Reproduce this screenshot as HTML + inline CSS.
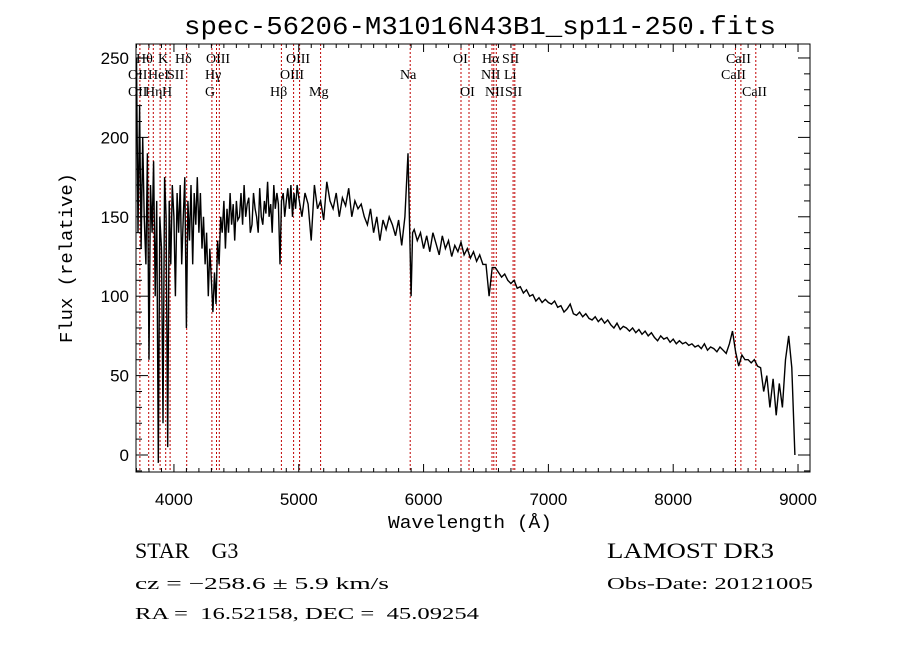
<!DOCTYPE html>
<html><head><meta charset="utf-8"><style>
html,body{margin:0;padding:0;background:#fff;}
svg{display:block;}
text{fill:#000;}
</style></head><body>
<svg id="chart" width="900" height="649" viewBox="0 0 900 649" xmlns="http://www.w3.org/2000/svg">
<rect x="0" y="0" width="900" height="649" fill="#fff"/>
<text x="480" y="34" text-anchor="middle" font-family="Liberation Mono, monospace" font-size="26" textLength="592" lengthAdjust="spacingAndGlyphs">spec-56206-M31016N43B1_sp11-250.fits</text>
<g id="lines"></g>
<g id="labels" font-family="Liberation Serif, serif" font-size="14"></g>
<g id="axes"></g>
<path id="spec" fill="none" stroke="#000" stroke-width="1.4" stroke-linejoin="miter"/>
<rect x="136" y="44" width="674" height="428" fill="none" stroke="#000" stroke-width="1"/>
<text x="470" y="528" text-anchor="middle" font-family="Liberation Mono, monospace" font-size="18" textLength="164" lengthAdjust="spacingAndGlyphs">Wavelength (Å)</text>
<text transform="translate(72,258) rotate(-90)" text-anchor="middle" font-family="Liberation Mono, monospace" font-size="18" textLength="170" lengthAdjust="spacingAndGlyphs">Flux (relative)</text>
<text x="135" y="558" font-family="Liberation Serif, serif" font-size="22" xml:space="preserve">STAR    G3</text>
<text x="135" y="589" font-family="Liberation Serif, serif" font-size="17" textLength="254" lengthAdjust="spacingAndGlyphs">cz = −258.6 ± 5.9 km/s</text>
<text x="135" y="619" font-family="Liberation Serif, serif" font-size="17" textLength="344" lengthAdjust="spacingAndGlyphs" xml:space="preserve">RA =  16.52158, DEC =  45.09254</text>
<text x="607" y="558" font-family="Liberation Serif, serif" font-size="22" textLength="167" lengthAdjust="spacingAndGlyphs">LAMOST DR3</text>
<text x="607" y="589" font-family="Liberation Serif, serif" font-size="17" textLength="206" lengthAdjust="spacingAndGlyphs">Obs-Date: 20121005</text>
</svg>
<script>
const waves = [3700,3712,3725,3737,3750,3762,3775,3787,3800,3812,3825,3837,3850,3862,3875,3887,3900,3912,3925,3937,3950,3962,3975,3987,4000,
4012,4025,4037,4050,4062,4075,4087,4100,4112,4125,4137,4150,4162,4175,4187,4200,4212,4225,4237,4250,4262,4275,4287,4300,4312,4325,4337,4350,4362,4375,4387,4400,4412,4425,
4437,4450,4462,4475,4487,4500,4512,4525,4537,4550,4562,4575,4587,4600,4612,4625,4637,4650,4662,4675,4687,4700,4712,4725,4737,4750,4762,4775,4787,4800,4812,4825,4837,4850,4862,4875,4887,4900,4912,4925,4937,4950,4962,4975,4987,5000,
5025,5050,5075,5100,5125,5150,5175,5200,5225,5250,5275,5300,5325,5350,5375,5400,5425,5450,5475,5500,
5525,5550,5575,5600,5625,5650,5675,5700,5725,5750,5775,5800,5825,5850,5875,
5900,5912,5925,
5950,5975,6000,6025,6050,6075,6100,6125,6150,6175,6200,6225,6250,6275,6300,6325,6350,6375,6400,6425,6450,6475,6500,
6525,6550,6575,
6600,6625,6650,6675,6700,6725,6750,6775,6800,6825,6850,6875,6900,6925,6950,6975,7000,
7025,7050,7075,7100,7125,7150,7175,7200,7225,7250,7275,7300,7325,7350,7375,7400,7425,7450,7475,7500,7525,7550,7575,7600,7625,7650,7675,7700,7725,7750,7775,7800,7825,7850,7875,7900,7925,7950,7975,8000,8025,8050,8075,8100,8125,8150,8175,8200,8225,8250,8275,8300,8325,8350,8375,8400,8425,8450,
8475,8500,8525,8550,8575,8600,8625,8650,8675,8700,8725,8750,8775,8800,8825,8850,8875,8900,8925,8950,8975,9000];
const flux = [250,140,220,130,200,150,120,190,60,170,140,185,100,160,-5,150,130,20,175,150,5,160,120,170,150,
100,165,140,170,120,150,175,80,160,135,170,120,165,145,175,140,165,130,150,120,140,100,130,110,90,115,95,135,120,150,140,160,130,155,
140,165,145,158,135,160,148,150,165,145,170,150,158,162,140,145,165,155,150,140,168,150,145,160,152,172,150,158,140,170,155,165,158,120,160,165,150,160,168,155,170,150,165,155,170,
162,150,165,158,135,170,155,160,148,172,160,155,165,150,162,157,168,150,160,155,
158,150,145,155,140,150,135,148,142,150,145,138,148,132,150,
190,100,140,
142,135,140,130,138,128,140,133,126,138,130,135,125,132,128,134,126,130,124,128,122,126,120,
120,100,118,
118,115,112,114,110,108,110,105,106,102,104,100,101,97,99,96,98,
96,95,97,93,94,90,92,95,89,88,90,87,89,86,85,87,84,86,83,85,82,80,83,79,81,80,78,80,77,79,76,78,75,77,74,72,75,73,74,71,73,70,72,70,71,69,70,68,69,67,70,66,68,67,65,68,66,64,
70,78,65,56,63,60,60,58,60,56,55,40,50,30,48,25,45,30,60,75,55,0];
const lineWaves = [3727,3798,3835,3889,3934,3969,4102,4304,4341,4363,4861,4959,5007,5175,5893,6300,6364,6548,6563,6583,6717,6731,8498,8542,8662];
const labelTexts = ["Hθ","K","Hδ","OIII","OIII","OI","Hα","SII","CaII",
"OII","HeI","SII","Hγ","OIII","Na","NII","Li","CaII",
"OII","Hη","H","G","Hβ","Mg","OI","NII","SII","CaII"];
const labelX = [136,158,175,206,286,453,482,502,726,
128,148,167,205,280,400,481,504,721,
128,145,162,205,270,309,460,485,505,742];
const labelRow = [0,0,0,0,0,0,0,0,0,1,1,1,1,1,1,1,1,1,2,2,2,2,2,2,2,2,2,2];
const xTicks = [4000,5000,6000,7000,8000,9000];
const yTicks = [0,50,100,150,200,250];

const X0=136,X1=810,Y0=44,Y1=472;
const WMIN=3696,WMAX=9096,FMIN=-10.7,FMAX=258.8;
const xs = w => X0 + (w-WMIN)/(WMAX-WMIN)*(X1-X0);
const ys = f => Y1 - (f-FMIN)/(FMAX-FMIN)*(Y1-Y0);
const NS="http://www.w3.org/2000/svg";

let d="";
for(let i=0;i<waves.length;i++){
  const x=Math.max(X0,Math.min(X1,xs(waves[i]))), y=Math.max(Y0,Math.min(Y1,ys(flux[i])));
  d += (i?"L":"M")+x.toFixed(1)+" "+y.toFixed(1);
}
document.getElementById('spec').setAttribute('d',d);

const lg=document.getElementById('lines');
lineWaves.forEach(w=>{
  const l=document.createElementNS(NS,'line');
  
  
  const x=xs(w).toFixed(1);
  l.setAttribute('x1',x);l.setAttribute('x2',x);l.setAttribute('y1',Y0);l.setAttribute('y2',Y1);
  l.setAttribute('stroke','#c00000');l.setAttribute('stroke-width','1');l.setAttribute('stroke-dasharray','2,2');
  lg.appendChild(l);
});
const lab=document.getElementById('labels');
const rowY=[63,79,96];
labelTexts.forEach((t,i)=>{
  const e=document.createElementNS(NS,'text');
  
  
  e.setAttribute('x',labelX[i]);e.setAttribute('y',rowY[labelRow[i]]);
  e.textContent=t;lab.appendChild(e);
});
const ax=document.getElementById('axes');
function ln(x1,y1,x2,y2){const l=document.createElementNS(NS,'line');l.setAttribute('x1',x1);l.setAttribute('y1',y1);l.setAttribute('x2',x2);l.setAttribute('y2',y2);l.setAttribute('stroke','#000');l.setAttribute('stroke-width','1');ax.appendChild(l);return l;}
for(let w=3700;w<=9000;w+=100){
  const x=xs(w);const major=w%1000===0;const len=major?8:4;
  const a=ln(x,Y1,x,Y1-len);
  const b=ln(x,Y0,x,Y0+len);
}
for(let f=-10;f<=250;f+=10){
  const y=ys(f);const major=f%50===0;const len=major?12:6;
  const a=ln(X0,y,X0+len,y);
  const b=ln(X1,y,X1-len,y);
}
xTicks.forEach(w=>{
  const e=document.createElementNS(NS,'text');
  
  
  e.setAttribute('x',xs(w));e.setAttribute('y',505);e.setAttribute('text-anchor','middle');
  e.setAttribute('font-family','Liberation Sans, sans-serif');e.setAttribute('font-size','17');
  e.textContent=w;ax.appendChild(e);
});
yTicks.forEach(f=>{
  const e=document.createElementNS(NS,'text');
  
  
  e.setAttribute('x',129);e.setAttribute('y',ys(f)+6);e.setAttribute('text-anchor','end');
  e.setAttribute('font-family','Liberation Sans, sans-serif');e.setAttribute('font-size','17');
  e.textContent=f;ax.appendChild(e);
});
</script>
</body></html>
